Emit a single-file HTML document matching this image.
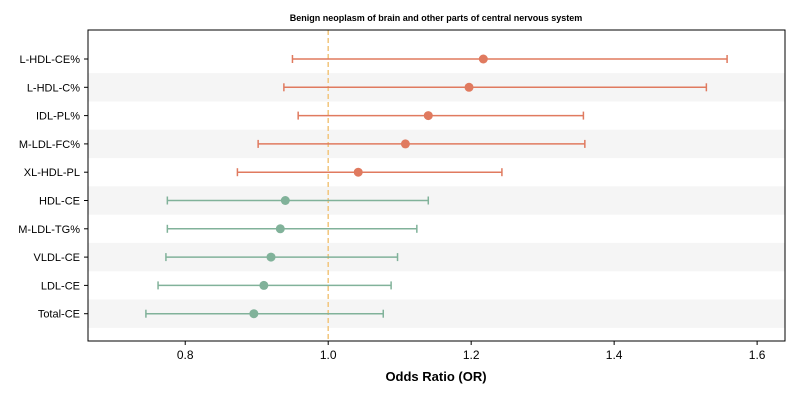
<!DOCTYPE html>
<html><head><meta charset="utf-8"><style>
body{margin:0;background:#fff;}
svg{display:block;font-family:"Liberation Sans",Arial,sans-serif;}
</style></head><body>
<svg id="chart" width="800" height="400" xmlns="http://www.w3.org/2000/svg"></svg>
<script>
const categories=["L-HDL-CE%","L-HDL-C%","IDL-PL%","M-LDL-FC%","XL-HDL-PL","HDL-CE","M-LDL-TG%","VLDL-CE","LDL-CE","Total-CE"];
const orValues=[1.217,1.197,1.140,1.108,1.042,0.940,0.933,0.920,0.910,0.896];
const lowerCI=[0.950,0.938,0.958,0.902,0.873,0.775,0.775,0.773,0.762,0.745];
const upperCI=[1.558,1.529,1.357,1.359,1.243,1.140,1.124,1.097,1.088,1.077];
const xTicks=[0.8,1.0,1.2,1.4,1.6];
const xTickLabels=["0.8","1.0","1.2","1.4","1.6"];

const NS="http://www.w3.org/2000/svg";
const svg=document.getElementById('chart');
const L=88,R=785,T=30,B=341;
const xMin=0.664,xMax=1.639;
const xs=v=>L+(v-xMin)/(xMax-xMin)*(R-L);
const n=categories.length;
const step=(B-T-22)/ (n-1+0.0);
const y0=59, dy=28.3;
const ys=i=>y0+i*dy;
function mk(tag,attrs,parent){const e=document.createElementNS(NS,tag);for(const k in attrs)e.setAttribute(k,attrs[k]);(parent||svg).appendChild(e);return e;}

const t=mk('text',{x:436,y:21,'text-anchor':'middle','font-size':9,'font-weight':'bold',fill:'#000'});


t.textContent='Benign neoplasm of brain and other parts of central nervous system';

categories.forEach((c,i)=>{
  if(i%2===1){
    const r=mk('rect',{x:L,y:ys(i)-14.15,width:R-L,height:dy,fill:'#f5f5f5'});
    
    
  }
});
const ref=mk('line',{x1:xs(1),x2:xs(1),y1:T,y2:B,stroke:'#f2c57c','stroke-width':1.5,'stroke-dasharray':'5,3'});



categories.forEach((c,i)=>{
  const col=orValues[i]>1?'#e07a5f':'#81b29a';
  const y=ys(i);
  const g=mk('g',{});
  
  
  mk('line',{x1:xs(lowerCI[i]),x2:xs(upperCI[i]),y1:y,y2:y,stroke:col,'stroke-width':1.5},g);
  mk('line',{x1:xs(lowerCI[i]),x2:xs(lowerCI[i]),y1:y-4,y2:y+4,stroke:col,'stroke-width':1.5},g);
  mk('line',{x1:xs(upperCI[i]),x2:xs(upperCI[i]),y1:y-4,y2:y+4,stroke:col,'stroke-width':1.5},g);
  mk('circle',{cx:xs(orValues[i]),cy:y,r:4.5,fill:col},g);
  const lb=mk('text',{x:L-8,y:y+4,'text-anchor':'end','font-size':11,fill:'#000'});
  
  
  lb.textContent=c;
  mk('line',{x1:L-4,x2:L,y1:y,y2:y,stroke:'#000','stroke-width':1});
});

const frame=mk('rect',{x:L,y:T,width:R-L,height:B-T,fill:'none',stroke:'#000','stroke-width':1});



xTicks.forEach((v,i)=>{
  mk('line',{x1:xs(v),x2:xs(v),y1:B,y2:B+4,stroke:'#000','stroke-width':1});
  const tl=mk('text',{x:xs(v),y:B+18,'text-anchor':'middle','font-size':12,fill:'#000'});
  
  
  tl.textContent=xTickLabels[i];
});
const xt=mk('text',{x:436,y:381,'text-anchor':'middle','font-size':13,'font-weight':'bold',fill:'#000'});


xt.textContent='Odds Ratio (OR)';
</script>
</body></html>
